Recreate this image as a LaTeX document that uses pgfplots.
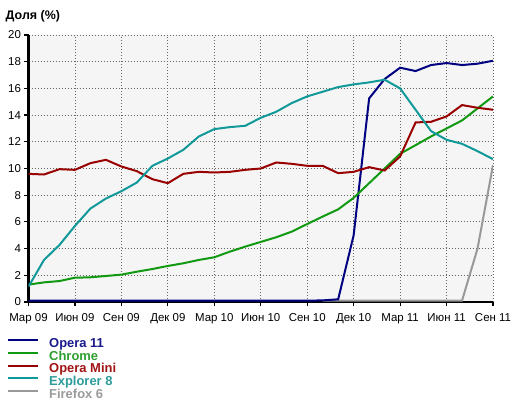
\documentclass[border=0pt]{standalone}
\usepackage{pgfplots}
\pgfplotsset{compat=1.18}
\usepackage{fontspec}
\setmainfont{Liberation Sans}
\definecolor{cOpera}{HTML}{000080}
\definecolor{cChrome}{HTML}{119A11}
\definecolor{cMini}{HTML}{990000}
\definecolor{cIE}{HTML}{119999}
\definecolor{cFF}{HTML}{999999}
\definecolor{tOpera}{HTML}{1A1A8C}
\definecolor{tChrome}{HTML}{2E9E2E}
\definecolor{tMini}{HTML}{A01414}
\definecolor{tIE}{HTML}{2E9B9B}
\definecolor{tFF}{HTML}{9A9A9A}
\begin{document}
\begin{tikzpicture}
\useasboundingbox (0,0) rectangle (520bp,405bp);
\begin{axis}[
  at={(28.5bp,103bp)}, anchor=south west,
  scale only axis, width=464.5bp, height=267bp,
  xmin=0, xmax=30, ymin=0, ymax=20,
  enlargelimits=false,
  axis x line*=bottom, axis y line*=left,
  axis line style={line width=2.5bp, black, -},
  axis background/.style={fill=black!4},
  xtick={0,3,...,30},
  xticklabels={Мар 09, Июн 09, Сен 09, Дек 09, Мар 10, Июн 10, Сен 10, Дек 10, Мар 11, Июн 11, Сен 11},
  ytick={0,2,...,20},
  tick align=outside, major tick length=4bp,
  tick style={black, line width=1.2bp},
  grid=major,
  major grid style={black!60, line width=0.8bp, dash pattern=on 0.8bp off 2.2bp},
  ticklabel style={font=\fontsize{11.5}{13}\selectfont},
  xticklabel style={yshift=-4bp},
  /pgf/number format/assume math mode=true,
  title={\bfseries Доля (\%)},
  title style={at={(0,1)}, anchor=base west, inner sep=0pt, xshift=-23bp, yshift=10bp, font=\fontsize{12.5}{14}\selectfont},
  legend style={at={(0,0)}, anchor=north west, xshift=-21.5bp, yshift=-36bp,
    draw=none, fill=none, inner sep=0pt, row sep=0pt,
    font=\bfseries\fontsize{13}{13}\selectfont,
    nodes={inner sep=0pt, text height=9bp, text depth=3.8bp},
    /tikz/column sep=10bp},
  legend cell align=left,
  legend image code/.code={\draw[#1] (0bp,4.5bp) -- (30bp,4.5bp);},
  every axis plot/.append style={line width=2bp},
]
% Firefox 6 drawn first (under the others)
\addplot[cFF, forget plot] coordinates {
(19,0.1)(20,0.1)(21,0.1)(22,0.1)(23,0.1)(24,0.1)(25,0.1)(26,0.1)(27,0.1)(28,0.1)(29,4.0)(30,10.25)};
% Opera 11
\addplot[cOpera] coordinates {
(0,0.1)(1,0.1)(2,0.1)(3,0.1)(4,0.1)(5,0.1)(6,0.1)(7,0.1)(8,0.1)(9,0.1)(10,0.1)(11,0.1)(12,0.1)(13,0.1)(14,0.1)(15,0.1)(16,0.1)(17,0.1)(18,0.1)(19,0.12)(20,0.2)(21,5.0)(22,15.25)(23,16.7)(24,17.55)(25,17.3)(26,17.75)(27,17.9)(28,17.75)(29,17.85)(30,18.07)};
\addlegendentry{\textcolor{tOpera}{Opera 11}}
% Chrome
\addplot[cChrome] coordinates {
(0,1.3)(1,1.47)(2,1.57)(3,1.82)(4,1.85)(5,1.95)(6,2.05)(7,2.27)(8,2.47)(9,2.7)(10,2.9)(11,3.15)(12,3.35)(13,3.77)(14,4.15)(15,4.5)(16,4.85)(17,5.27)(18,5.84)(19,6.4)(20,6.94)(21,7.8)(22,8.9)(23,10.0)(24,11.1)(25,11.75)(26,12.4)(27,13.0)(28,13.6)(29,14.5)(30,15.4)};
\addlegendentry{\textcolor{tChrome}{Chrome}}
% Opera Mini
\addplot[cMini] coordinates {
(0,9.6)(1,9.55)(2,9.95)(3,9.9)(4,10.4)(5,10.65)(6,10.15)(7,9.8)(8,9.2)(9,8.9)(10,9.6)(11,9.75)(12,9.7)(13,9.75)(14,9.9)(15,10.0)(16,10.45)(17,10.35)(18,10.2)(19,10.2)(20,9.65)(21,9.75)(22,10.1)(23,9.85)(24,10.9)(25,13.45)(26,13.5)(27,13.9)(28,14.75)(29,14.55)(30,14.4)};
\addlegendentry{\textcolor{tMini}{Opera Mini}}
% Explorer 8
\addplot[cIE] coordinates {
(0,1.15)(1,3.15)(2,4.27)(3,5.7)(4,7.0)(5,7.75)(6,8.3)(7,8.95)(8,10.2)(9,10.75)(10,11.4)(11,12.4)(12,12.95)(13,13.1)(14,13.2)(15,13.8)(16,14.25)(17,14.9)(18,15.4)(19,15.75)(20,16.1)(21,16.3)(22,16.45)(23,16.65)(24,16.0)(25,14.4)(26,12.8)(27,12.15)(28,11.85)(29,11.3)(30,10.7)};
\addlegendentry{\textcolor{tIE}{Explorer 8}}
\addlegendimage{cFF, line width=2bp}
\addlegendentry{\textcolor{tFF}{Firefox 6}}
\end{axis}
\end{tikzpicture}
\end{document}
